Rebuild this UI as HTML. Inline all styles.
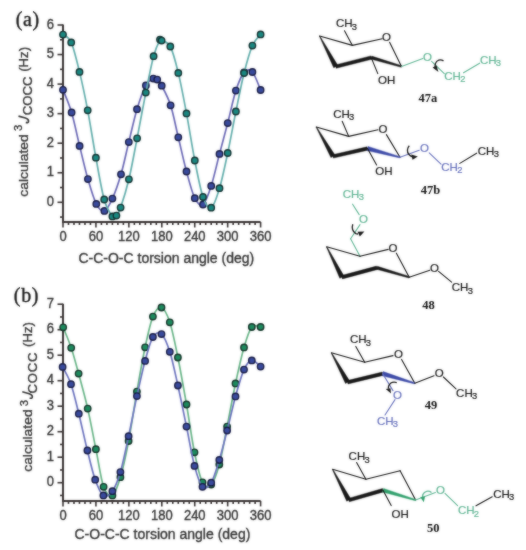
<!DOCTYPE html>
<html><head><meta charset="utf-8"><style>
html,body{margin:0;padding:0;background:#fff;}
svg{display:block;}
.tk{font-family:"Liberation Sans",sans-serif;font-size:13px;fill:#333333;stroke:#333;stroke-width:0.35px;}
.xt{font-family:"Liberation Sans",sans-serif;font-size:14px;fill:#333333;stroke:#333;stroke-width:0.35px;}
.yt{font-family:"Liberation Sans",sans-serif;font-size:13px;fill:#333333;stroke:#333;stroke-width:0.35px;}
.tag{font-family:"Liberation Serif",serif;font-size:20px;fill:#151515;stroke:#151515;stroke-width:0.35px;letter-spacing:0.7px;}
.ch{font-family:"Liberation Sans",sans-serif;stroke-width:0.2px;}
.lab{font-family:"Liberation Serif",serif;font-weight:bold;font-size:12.5px;fill:#111;}
</style></head><body>
<svg width="526" height="550" viewBox="0 0 526 550">
<defs><filter id="soft" x="0" y="0" width="526" height="550" filterUnits="userSpaceOnUse" color-interpolation-filters="sRGB"><feGaussianBlur in="SourceGraphic" stdDeviation="1" result="bl"/><feComposite in="SourceGraphic" in2="bl" operator="arithmetic" k1="0" k2="0.5" k3="0.5" k4="0"/></filter></defs>
<g filter="url(#soft)">
<rect width="526" height="550" fill="#fff"/>
<path d="M63.0,24.5 V222.0 H260.6" fill="none" stroke="#373131" stroke-width="2"/>
<line x1="60.0" y1="217.08" x2="63.0" y2="217.08" stroke="#373131" stroke-width="1.6"/>
<line x1="57.5" y1="202.30" x2="63.0" y2="202.30" stroke="#373131" stroke-width="1.6"/>
<text transform="translate(54.1,205.80) scale(1,1.1)" text-anchor="end" class="tk">0</text>
<line x1="60.0" y1="187.53" x2="63.0" y2="187.53" stroke="#373131" stroke-width="1.6"/>
<line x1="57.5" y1="172.75" x2="63.0" y2="172.75" stroke="#373131" stroke-width="1.6"/>
<text transform="translate(54.1,176.25) scale(1,1.1)" text-anchor="end" class="tk">1</text>
<line x1="60.0" y1="157.98" x2="63.0" y2="157.98" stroke="#373131" stroke-width="1.6"/>
<line x1="57.5" y1="143.20" x2="63.0" y2="143.20" stroke="#373131" stroke-width="1.6"/>
<text transform="translate(54.1,146.70) scale(1,1.1)" text-anchor="end" class="tk">2</text>
<line x1="60.0" y1="128.43" x2="63.0" y2="128.43" stroke="#373131" stroke-width="1.6"/>
<line x1="57.5" y1="113.65" x2="63.0" y2="113.65" stroke="#373131" stroke-width="1.6"/>
<text transform="translate(54.1,117.15) scale(1,1.1)" text-anchor="end" class="tk">3</text>
<line x1="60.0" y1="98.88" x2="63.0" y2="98.88" stroke="#373131" stroke-width="1.6"/>
<line x1="57.5" y1="84.10" x2="63.0" y2="84.10" stroke="#373131" stroke-width="1.6"/>
<text transform="translate(54.1,87.60) scale(1,1.1)" text-anchor="end" class="tk">4</text>
<line x1="60.0" y1="69.33" x2="63.0" y2="69.33" stroke="#373131" stroke-width="1.6"/>
<line x1="57.5" y1="54.55" x2="63.0" y2="54.55" stroke="#373131" stroke-width="1.6"/>
<text transform="translate(54.1,58.05) scale(1,1.1)" text-anchor="end" class="tk">5</text>
<line x1="60.0" y1="39.78" x2="63.0" y2="39.78" stroke="#373131" stroke-width="1.6"/>
<line x1="57.5" y1="25.00" x2="63.0" y2="25.00" stroke="#373131" stroke-width="1.6"/>
<text transform="translate(54.1,28.50) scale(1,1.1)" text-anchor="end" class="tk">6</text>
<line x1="63.00" y1="222.0" x2="63.00" y2="227.5" stroke="#373131" stroke-width="1.6"/>
<text transform="translate(63.00,241.20) scale(1,1.1)" text-anchor="middle" class="tk">0</text>
<line x1="68.49" y1="222.0" x2="68.49" y2="225.0" stroke="#373131" stroke-width="1.6"/>
<line x1="73.98" y1="222.0" x2="73.98" y2="225.0" stroke="#373131" stroke-width="1.6"/>
<line x1="79.47" y1="222.0" x2="79.47" y2="225.0" stroke="#373131" stroke-width="1.6"/>
<line x1="84.96" y1="222.0" x2="84.96" y2="225.0" stroke="#373131" stroke-width="1.6"/>
<line x1="90.45" y1="222.0" x2="90.45" y2="225.0" stroke="#373131" stroke-width="1.6"/>
<line x1="95.93" y1="222.0" x2="95.93" y2="227.5" stroke="#373131" stroke-width="1.6"/>
<text transform="translate(95.93,241.20) scale(1,1.1)" text-anchor="middle" class="tk">60</text>
<line x1="101.42" y1="222.0" x2="101.42" y2="225.0" stroke="#373131" stroke-width="1.6"/>
<line x1="106.91" y1="222.0" x2="106.91" y2="225.0" stroke="#373131" stroke-width="1.6"/>
<line x1="112.40" y1="222.0" x2="112.40" y2="225.0" stroke="#373131" stroke-width="1.6"/>
<line x1="117.89" y1="222.0" x2="117.89" y2="225.0" stroke="#373131" stroke-width="1.6"/>
<line x1="123.38" y1="222.0" x2="123.38" y2="225.0" stroke="#373131" stroke-width="1.6"/>
<line x1="128.87" y1="222.0" x2="128.87" y2="227.5" stroke="#373131" stroke-width="1.6"/>
<text transform="translate(128.87,241.20) scale(1,1.1)" text-anchor="middle" class="tk">120</text>
<line x1="134.36" y1="222.0" x2="134.36" y2="225.0" stroke="#373131" stroke-width="1.6"/>
<line x1="139.85" y1="222.0" x2="139.85" y2="225.0" stroke="#373131" stroke-width="1.6"/>
<line x1="145.34" y1="222.0" x2="145.34" y2="225.0" stroke="#373131" stroke-width="1.6"/>
<line x1="150.82" y1="222.0" x2="150.82" y2="225.0" stroke="#373131" stroke-width="1.6"/>
<line x1="156.31" y1="222.0" x2="156.31" y2="225.0" stroke="#373131" stroke-width="1.6"/>
<line x1="161.80" y1="222.0" x2="161.80" y2="227.5" stroke="#373131" stroke-width="1.6"/>
<text transform="translate(161.80,241.20) scale(1,1.1)" text-anchor="middle" class="tk">180</text>
<line x1="167.29" y1="222.0" x2="167.29" y2="225.0" stroke="#373131" stroke-width="1.6"/>
<line x1="172.78" y1="222.0" x2="172.78" y2="225.0" stroke="#373131" stroke-width="1.6"/>
<line x1="178.27" y1="222.0" x2="178.27" y2="225.0" stroke="#373131" stroke-width="1.6"/>
<line x1="183.76" y1="222.0" x2="183.76" y2="225.0" stroke="#373131" stroke-width="1.6"/>
<line x1="189.25" y1="222.0" x2="189.25" y2="225.0" stroke="#373131" stroke-width="1.6"/>
<line x1="194.74" y1="222.0" x2="194.74" y2="227.5" stroke="#373131" stroke-width="1.6"/>
<text transform="translate(194.74,241.20) scale(1,1.1)" text-anchor="middle" class="tk">240</text>
<line x1="200.23" y1="222.0" x2="200.23" y2="225.0" stroke="#373131" stroke-width="1.6"/>
<line x1="205.71" y1="222.0" x2="205.71" y2="225.0" stroke="#373131" stroke-width="1.6"/>
<line x1="211.20" y1="222.0" x2="211.20" y2="225.0" stroke="#373131" stroke-width="1.6"/>
<line x1="216.69" y1="222.0" x2="216.69" y2="225.0" stroke="#373131" stroke-width="1.6"/>
<line x1="222.18" y1="222.0" x2="222.18" y2="225.0" stroke="#373131" stroke-width="1.6"/>
<line x1="227.67" y1="222.0" x2="227.67" y2="227.5" stroke="#373131" stroke-width="1.6"/>
<text transform="translate(227.67,241.20) scale(1,1.1)" text-anchor="middle" class="tk">300</text>
<line x1="233.16" y1="222.0" x2="233.16" y2="225.0" stroke="#373131" stroke-width="1.6"/>
<line x1="238.65" y1="222.0" x2="238.65" y2="225.0" stroke="#373131" stroke-width="1.6"/>
<line x1="244.14" y1="222.0" x2="244.14" y2="225.0" stroke="#373131" stroke-width="1.6"/>
<line x1="249.63" y1="222.0" x2="249.63" y2="225.0" stroke="#373131" stroke-width="1.6"/>
<line x1="255.12" y1="222.0" x2="255.12" y2="225.0" stroke="#373131" stroke-width="1.6"/>
<line x1="260.60" y1="222.0" x2="260.60" y2="227.5" stroke="#373131" stroke-width="1.6"/>
<text transform="translate(260.60,241.20) scale(1,1.1)" text-anchor="middle" class="tk">360</text>
<path d="M63.00,89.80 C64.43,93.58 68.83,103.15 71.60,112.50 C74.37,121.85 76.88,134.80 79.60,145.90 C82.32,157.00 85.12,169.43 87.90,179.10 C90.68,188.77 93.55,198.60 96.30,203.90 C99.05,209.20 101.72,211.78 104.40,210.90 C107.08,210.02 109.63,204.70 112.40,198.60 C115.17,192.50 118.27,183.72 121.00,174.30 C123.73,164.88 126.13,152.95 128.80,142.10 C131.47,131.25 134.15,118.65 137.00,109.20 C139.85,99.75 143.18,90.50 145.90,85.40 C148.62,80.30 151.42,79.57 153.30,78.60 C155.18,77.63 155.80,78.42 157.20,79.60 C158.60,80.78 159.47,81.42 161.70,85.70 C163.93,89.98 167.83,96.70 170.60,105.30 C173.37,113.90 175.65,126.27 178.30,137.30 C180.95,148.33 183.75,161.35 186.50,171.50 C189.25,181.65 192.05,192.70 194.80,198.20 C197.55,203.70 200.27,206.55 203.00,204.50 C205.73,202.45 208.45,194.33 211.20,185.90 C213.95,177.47 216.75,164.37 219.50,153.90 C222.25,143.43 224.97,133.65 227.70,123.10 C230.43,112.55 233.17,99.05 235.90,90.60 C238.63,82.15 241.35,75.50 244.10,72.40 C246.85,69.30 249.65,69.07 252.40,72.00 C255.15,74.93 259.23,87.00 260.60,90.00" fill="none" stroke="#6967b4" stroke-width="1.7" stroke-linejoin="round"/>
<circle cx="63.0" cy="89.8" r="3.2" fill="#3a4ca0" stroke="#161a44" stroke-width="1.4"/>
<circle cx="71.6" cy="112.5" r="3.2" fill="#3a4ca0" stroke="#161a44" stroke-width="1.4"/>
<circle cx="79.6" cy="145.9" r="3.2" fill="#3a4ca0" stroke="#161a44" stroke-width="1.4"/>
<circle cx="87.9" cy="179.1" r="3.2" fill="#3a4ca0" stroke="#161a44" stroke-width="1.4"/>
<circle cx="96.3" cy="203.9" r="3.2" fill="#3a4ca0" stroke="#161a44" stroke-width="1.4"/>
<circle cx="104.4" cy="210.9" r="3.2" fill="#3a4ca0" stroke="#161a44" stroke-width="1.4"/>
<circle cx="112.4" cy="198.6" r="3.2" fill="#3a4ca0" stroke="#161a44" stroke-width="1.4"/>
<circle cx="121.0" cy="174.3" r="3.2" fill="#3a4ca0" stroke="#161a44" stroke-width="1.4"/>
<circle cx="128.8" cy="142.1" r="3.2" fill="#3a4ca0" stroke="#161a44" stroke-width="1.4"/>
<circle cx="137.0" cy="109.2" r="3.2" fill="#3a4ca0" stroke="#161a44" stroke-width="1.4"/>
<circle cx="145.9" cy="85.4" r="3.2" fill="#3a4ca0" stroke="#161a44" stroke-width="1.4"/>
<circle cx="153.3" cy="78.6" r="3.2" fill="#3a4ca0" stroke="#161a44" stroke-width="1.4"/>
<circle cx="157.2" cy="79.6" r="3.2" fill="#3a4ca0" stroke="#161a44" stroke-width="1.4"/>
<circle cx="161.7" cy="85.7" r="3.2" fill="#3a4ca0" stroke="#161a44" stroke-width="1.4"/>
<circle cx="170.6" cy="105.3" r="3.2" fill="#3a4ca0" stroke="#161a44" stroke-width="1.4"/>
<circle cx="178.3" cy="137.3" r="3.2" fill="#3a4ca0" stroke="#161a44" stroke-width="1.4"/>
<circle cx="186.5" cy="171.5" r="3.2" fill="#3a4ca0" stroke="#161a44" stroke-width="1.4"/>
<circle cx="194.8" cy="198.2" r="3.2" fill="#3a4ca0" stroke="#161a44" stroke-width="1.4"/>
<circle cx="203.0" cy="204.5" r="3.2" fill="#3a4ca0" stroke="#161a44" stroke-width="1.4"/>
<circle cx="211.2" cy="185.9" r="3.2" fill="#3a4ca0" stroke="#161a44" stroke-width="1.4"/>
<circle cx="219.5" cy="153.9" r="3.2" fill="#3a4ca0" stroke="#161a44" stroke-width="1.4"/>
<circle cx="227.7" cy="123.1" r="3.2" fill="#3a4ca0" stroke="#161a44" stroke-width="1.4"/>
<circle cx="235.9" cy="90.6" r="3.2" fill="#3a4ca0" stroke="#161a44" stroke-width="1.4"/>
<circle cx="244.1" cy="72.4" r="3.2" fill="#3a4ca0" stroke="#161a44" stroke-width="1.4"/>
<circle cx="252.4" cy="72.0" r="3.2" fill="#3a4ca0" stroke="#161a44" stroke-width="1.4"/>
<circle cx="260.6" cy="90.0" r="3.2" fill="#3a4ca0" stroke="#161a44" stroke-width="1.4"/>
<path d="M63.00,34.60 C64.37,35.90 68.45,36.18 71.20,42.40 C73.95,48.62 76.75,60.58 79.50,71.90 C82.25,83.22 84.97,96.00 87.70,110.30 C90.43,124.60 93.15,142.83 95.90,157.70 C98.65,172.57 101.45,189.72 104.20,199.50 C106.95,209.28 110.37,213.72 112.40,216.40 C114.43,219.08 115.03,217.07 116.40,215.60 C117.77,214.13 118.52,213.65 120.60,207.60 C122.68,201.55 126.15,190.85 128.90,179.30 C131.65,167.75 134.28,152.75 137.10,138.30 C139.92,123.85 143.05,106.28 145.80,92.60 C148.55,78.92 151.23,65.03 153.60,56.20 C155.97,47.37 158.67,42.20 160.00,39.60 C161.33,37.00 159.88,39.45 161.60,40.60 C163.32,41.75 167.52,41.12 170.30,46.50 C173.08,51.88 175.60,61.75 178.30,72.90 C181.00,84.05 183.75,98.80 186.50,113.40 C189.25,128.00 192.05,146.57 194.80,160.50 C197.55,174.43 200.27,189.13 203.00,197.00 C205.73,204.87 208.45,209.17 211.20,207.70 C213.95,206.23 216.75,197.32 219.50,188.20 C222.25,179.08 224.97,165.78 227.70,153.00 C230.43,140.22 233.17,124.83 235.90,111.50 C238.63,98.17 241.35,83.98 244.10,73.00 C246.85,62.02 249.65,52.03 252.40,45.60 C255.15,39.17 259.23,36.27 260.60,34.40" fill="none" stroke="#62adab" stroke-width="1.7" stroke-linejoin="round"/>
<circle cx="63.0" cy="34.6" r="3.2" fill="#1a8a83" stroke="#10302f" stroke-width="1.4"/>
<circle cx="71.2" cy="42.4" r="3.2" fill="#1a8a83" stroke="#10302f" stroke-width="1.4"/>
<circle cx="79.5" cy="71.9" r="3.2" fill="#1a8a83" stroke="#10302f" stroke-width="1.4"/>
<circle cx="87.7" cy="110.3" r="3.2" fill="#1a8a83" stroke="#10302f" stroke-width="1.4"/>
<circle cx="95.9" cy="157.7" r="3.2" fill="#1a8a83" stroke="#10302f" stroke-width="1.4"/>
<circle cx="104.2" cy="199.5" r="3.2" fill="#1a8a83" stroke="#10302f" stroke-width="1.4"/>
<circle cx="112.4" cy="216.4" r="3.2" fill="#1a8a83" stroke="#10302f" stroke-width="1.4"/>
<circle cx="116.4" cy="215.6" r="3.2" fill="#1a8a83" stroke="#10302f" stroke-width="1.4"/>
<circle cx="120.6" cy="207.6" r="3.2" fill="#1a8a83" stroke="#10302f" stroke-width="1.4"/>
<circle cx="128.9" cy="179.3" r="3.2" fill="#1a8a83" stroke="#10302f" stroke-width="1.4"/>
<circle cx="137.1" cy="138.3" r="3.2" fill="#1a8a83" stroke="#10302f" stroke-width="1.4"/>
<circle cx="145.8" cy="92.6" r="3.2" fill="#1a8a83" stroke="#10302f" stroke-width="1.4"/>
<circle cx="153.6" cy="56.2" r="3.2" fill="#1a8a83" stroke="#10302f" stroke-width="1.4"/>
<circle cx="160.0" cy="39.6" r="3.2" fill="#1a8a83" stroke="#10302f" stroke-width="1.4"/>
<circle cx="161.6" cy="40.6" r="3.2" fill="#1a8a83" stroke="#10302f" stroke-width="1.4"/>
<circle cx="170.3" cy="46.5" r="3.2" fill="#1a8a83" stroke="#10302f" stroke-width="1.4"/>
<circle cx="178.3" cy="72.9" r="3.2" fill="#1a8a83" stroke="#10302f" stroke-width="1.4"/>
<circle cx="186.5" cy="113.4" r="3.2" fill="#1a8a83" stroke="#10302f" stroke-width="1.4"/>
<circle cx="194.8" cy="160.5" r="3.2" fill="#1a8a83" stroke="#10302f" stroke-width="1.4"/>
<circle cx="203.0" cy="197.0" r="3.2" fill="#1a8a83" stroke="#10302f" stroke-width="1.4"/>
<circle cx="211.2" cy="207.7" r="3.2" fill="#1a8a83" stroke="#10302f" stroke-width="1.4"/>
<circle cx="219.5" cy="188.2" r="3.2" fill="#1a8a83" stroke="#10302f" stroke-width="1.4"/>
<circle cx="227.7" cy="153.0" r="3.2" fill="#1a8a83" stroke="#10302f" stroke-width="1.4"/>
<circle cx="235.9" cy="111.5" r="3.2" fill="#1a8a83" stroke="#10302f" stroke-width="1.4"/>
<circle cx="244.1" cy="73.0" r="3.2" fill="#1a8a83" stroke="#10302f" stroke-width="1.4"/>
<circle cx="252.4" cy="45.6" r="3.2" fill="#1a8a83" stroke="#10302f" stroke-width="1.4"/>
<circle cx="260.6" cy="34.4" r="3.2" fill="#1a8a83" stroke="#10302f" stroke-width="1.4"/>
<text x="78.4" y="263.0" class="xt">C-C-O-C torsion angle (deg)</text>
<text transform="translate(27.7,196.7) rotate(-90) scale(1.013,1)" class="yt"><tspan x="0" y="0" font-size="13.7">calculated</tspan><tspan x="64.8" y="-5.8" font-size="11">3</tspan><tspan x="80.4" y="4.6" style="letter-spacing:0.0px">COCC</tspan><tspan x="123.3" y="0">(Hz)</tspan></text>
<path d="M18.50,116.13 L25.40,118.06 C27.50,118.65 28.55,119.84 28.55,121.14 C28.55,122.54 27.60,122.88 25.80,122.37" fill="none" stroke="#333333" stroke-width="1.6"/>
<text x="15.7" y="25.6" class="tag">(a)</text>
<path d="M63.0,303.7 V500.9 H260.6" fill="none" stroke="#373131" stroke-width="2"/>
<line x1="60.0" y1="495.45" x2="63.0" y2="495.45" stroke="#373131" stroke-width="1.6"/>
<line x1="57.5" y1="482.70" x2="63.0" y2="482.70" stroke="#373131" stroke-width="1.6"/>
<text transform="translate(54.1,486.20) scale(1,1.1)" text-anchor="end" class="tk">0</text>
<line x1="60.0" y1="469.95" x2="63.0" y2="469.95" stroke="#373131" stroke-width="1.6"/>
<line x1="57.5" y1="457.20" x2="63.0" y2="457.20" stroke="#373131" stroke-width="1.6"/>
<text transform="translate(54.1,460.70) scale(1,1.1)" text-anchor="end" class="tk">1</text>
<line x1="60.0" y1="444.45" x2="63.0" y2="444.45" stroke="#373131" stroke-width="1.6"/>
<line x1="57.5" y1="431.70" x2="63.0" y2="431.70" stroke="#373131" stroke-width="1.6"/>
<text transform="translate(54.1,435.20) scale(1,1.1)" text-anchor="end" class="tk">2</text>
<line x1="60.0" y1="418.95" x2="63.0" y2="418.95" stroke="#373131" stroke-width="1.6"/>
<line x1="57.5" y1="406.20" x2="63.0" y2="406.20" stroke="#373131" stroke-width="1.6"/>
<text transform="translate(54.1,409.70) scale(1,1.1)" text-anchor="end" class="tk">3</text>
<line x1="60.0" y1="393.45" x2="63.0" y2="393.45" stroke="#373131" stroke-width="1.6"/>
<line x1="57.5" y1="380.70" x2="63.0" y2="380.70" stroke="#373131" stroke-width="1.6"/>
<text transform="translate(54.1,384.20) scale(1,1.1)" text-anchor="end" class="tk">4</text>
<line x1="60.0" y1="367.95" x2="63.0" y2="367.95" stroke="#373131" stroke-width="1.6"/>
<line x1="57.5" y1="355.20" x2="63.0" y2="355.20" stroke="#373131" stroke-width="1.6"/>
<text transform="translate(54.1,358.70) scale(1,1.1)" text-anchor="end" class="tk">5</text>
<line x1="60.0" y1="342.45" x2="63.0" y2="342.45" stroke="#373131" stroke-width="1.6"/>
<line x1="57.5" y1="329.70" x2="63.0" y2="329.70" stroke="#373131" stroke-width="1.6"/>
<text transform="translate(54.1,333.20) scale(1,1.1)" text-anchor="end" class="tk">6</text>
<line x1="60.0" y1="316.95" x2="63.0" y2="316.95" stroke="#373131" stroke-width="1.6"/>
<line x1="57.5" y1="304.20" x2="63.0" y2="304.20" stroke="#373131" stroke-width="1.6"/>
<text transform="translate(54.1,307.70) scale(1,1.1)" text-anchor="end" class="tk">7</text>
<line x1="63.00" y1="500.9" x2="63.00" y2="506.4" stroke="#373131" stroke-width="1.6"/>
<text transform="translate(63.00,520.10) scale(1,1.1)" text-anchor="middle" class="tk">0</text>
<line x1="68.49" y1="500.9" x2="68.49" y2="503.9" stroke="#373131" stroke-width="1.6"/>
<line x1="73.98" y1="500.9" x2="73.98" y2="503.9" stroke="#373131" stroke-width="1.6"/>
<line x1="79.47" y1="500.9" x2="79.47" y2="503.9" stroke="#373131" stroke-width="1.6"/>
<line x1="84.96" y1="500.9" x2="84.96" y2="503.9" stroke="#373131" stroke-width="1.6"/>
<line x1="90.45" y1="500.9" x2="90.45" y2="503.9" stroke="#373131" stroke-width="1.6"/>
<line x1="95.93" y1="500.9" x2="95.93" y2="506.4" stroke="#373131" stroke-width="1.6"/>
<text transform="translate(95.93,520.10) scale(1,1.1)" text-anchor="middle" class="tk">60</text>
<line x1="101.42" y1="500.9" x2="101.42" y2="503.9" stroke="#373131" stroke-width="1.6"/>
<line x1="106.91" y1="500.9" x2="106.91" y2="503.9" stroke="#373131" stroke-width="1.6"/>
<line x1="112.40" y1="500.9" x2="112.40" y2="503.9" stroke="#373131" stroke-width="1.6"/>
<line x1="117.89" y1="500.9" x2="117.89" y2="503.9" stroke="#373131" stroke-width="1.6"/>
<line x1="123.38" y1="500.9" x2="123.38" y2="503.9" stroke="#373131" stroke-width="1.6"/>
<line x1="128.87" y1="500.9" x2="128.87" y2="506.4" stroke="#373131" stroke-width="1.6"/>
<text transform="translate(128.87,520.10) scale(1,1.1)" text-anchor="middle" class="tk">120</text>
<line x1="134.36" y1="500.9" x2="134.36" y2="503.9" stroke="#373131" stroke-width="1.6"/>
<line x1="139.85" y1="500.9" x2="139.85" y2="503.9" stroke="#373131" stroke-width="1.6"/>
<line x1="145.34" y1="500.9" x2="145.34" y2="503.9" stroke="#373131" stroke-width="1.6"/>
<line x1="150.82" y1="500.9" x2="150.82" y2="503.9" stroke="#373131" stroke-width="1.6"/>
<line x1="156.31" y1="500.9" x2="156.31" y2="503.9" stroke="#373131" stroke-width="1.6"/>
<line x1="161.80" y1="500.9" x2="161.80" y2="506.4" stroke="#373131" stroke-width="1.6"/>
<text transform="translate(161.80,520.10) scale(1,1.1)" text-anchor="middle" class="tk">180</text>
<line x1="167.29" y1="500.9" x2="167.29" y2="503.9" stroke="#373131" stroke-width="1.6"/>
<line x1="172.78" y1="500.9" x2="172.78" y2="503.9" stroke="#373131" stroke-width="1.6"/>
<line x1="178.27" y1="500.9" x2="178.27" y2="503.9" stroke="#373131" stroke-width="1.6"/>
<line x1="183.76" y1="500.9" x2="183.76" y2="503.9" stroke="#373131" stroke-width="1.6"/>
<line x1="189.25" y1="500.9" x2="189.25" y2="503.9" stroke="#373131" stroke-width="1.6"/>
<line x1="194.74" y1="500.9" x2="194.74" y2="506.4" stroke="#373131" stroke-width="1.6"/>
<text transform="translate(194.74,520.10) scale(1,1.1)" text-anchor="middle" class="tk">240</text>
<line x1="200.23" y1="500.9" x2="200.23" y2="503.9" stroke="#373131" stroke-width="1.6"/>
<line x1="205.71" y1="500.9" x2="205.71" y2="503.9" stroke="#373131" stroke-width="1.6"/>
<line x1="211.20" y1="500.9" x2="211.20" y2="503.9" stroke="#373131" stroke-width="1.6"/>
<line x1="216.69" y1="500.9" x2="216.69" y2="503.9" stroke="#373131" stroke-width="1.6"/>
<line x1="222.18" y1="500.9" x2="222.18" y2="503.9" stroke="#373131" stroke-width="1.6"/>
<line x1="227.67" y1="500.9" x2="227.67" y2="506.4" stroke="#373131" stroke-width="1.6"/>
<text transform="translate(227.67,520.10) scale(1,1.1)" text-anchor="middle" class="tk">300</text>
<line x1="233.16" y1="500.9" x2="233.16" y2="503.9" stroke="#373131" stroke-width="1.6"/>
<line x1="238.65" y1="500.9" x2="238.65" y2="503.9" stroke="#373131" stroke-width="1.6"/>
<line x1="244.14" y1="500.9" x2="244.14" y2="503.9" stroke="#373131" stroke-width="1.6"/>
<line x1="249.63" y1="500.9" x2="249.63" y2="503.9" stroke="#373131" stroke-width="1.6"/>
<line x1="255.12" y1="500.9" x2="255.12" y2="503.9" stroke="#373131" stroke-width="1.6"/>
<line x1="260.60" y1="500.9" x2="260.60" y2="506.4" stroke="#373131" stroke-width="1.6"/>
<text transform="translate(260.60,520.10) scale(1,1.1)" text-anchor="middle" class="tk">360</text>
<path d="M63.20,327.30 C64.53,330.72 68.63,340.08 71.20,347.80 C73.77,355.52 75.85,363.47 78.60,373.60 C81.35,383.73 84.82,396.00 87.70,408.60 C90.58,421.20 93.25,436.17 95.90,449.20 C98.55,462.23 100.85,479.10 103.60,486.80 C106.35,494.50 109.60,497.00 112.40,495.40 C115.20,493.80 117.70,486.27 120.40,477.20 C123.10,468.13 125.85,455.27 128.60,441.00 C131.35,426.73 134.15,407.22 136.90,391.60 C139.65,375.98 142.43,359.80 145.10,347.30 C147.77,334.80 150.17,323.23 152.90,316.60 C155.63,309.97 158.68,306.55 161.50,307.50 C164.32,308.45 167.07,313.97 169.80,322.30 C172.53,330.63 175.12,343.80 177.90,357.50 C180.68,371.20 183.73,388.70 186.50,404.50 C189.27,420.30 191.83,439.33 194.50,452.30 C197.17,465.27 199.72,476.93 202.50,482.30 C205.28,487.67 208.40,487.47 211.20,484.50 C214.00,481.53 216.65,474.15 219.30,464.50 C221.95,454.85 224.40,440.12 227.10,426.60 C229.80,413.08 232.68,396.60 235.50,383.40 C238.32,370.20 241.28,356.80 244.00,347.40 C246.72,338.00 249.03,330.40 251.80,327.00 C254.57,323.60 259.13,327.00 260.60,327.00" fill="none" stroke="#68b487" stroke-width="1.7" stroke-linejoin="round"/>
<circle cx="63.2" cy="327.3" r="3.2" fill="#1d8d60" stroke="#113226" stroke-width="1.4"/>
<circle cx="71.2" cy="347.8" r="3.2" fill="#1d8d60" stroke="#113226" stroke-width="1.4"/>
<circle cx="78.6" cy="373.6" r="3.2" fill="#1d8d60" stroke="#113226" stroke-width="1.4"/>
<circle cx="87.7" cy="408.6" r="3.2" fill="#1d8d60" stroke="#113226" stroke-width="1.4"/>
<circle cx="95.9" cy="449.2" r="3.2" fill="#1d8d60" stroke="#113226" stroke-width="1.4"/>
<circle cx="103.6" cy="486.8" r="3.2" fill="#1d8d60" stroke="#113226" stroke-width="1.4"/>
<circle cx="112.4" cy="495.4" r="3.2" fill="#1d8d60" stroke="#113226" stroke-width="1.4"/>
<circle cx="120.4" cy="477.2" r="3.2" fill="#1d8d60" stroke="#113226" stroke-width="1.4"/>
<circle cx="128.6" cy="441.0" r="3.2" fill="#1d8d60" stroke="#113226" stroke-width="1.4"/>
<circle cx="136.9" cy="391.6" r="3.2" fill="#1d8d60" stroke="#113226" stroke-width="1.4"/>
<circle cx="145.1" cy="347.3" r="3.2" fill="#1d8d60" stroke="#113226" stroke-width="1.4"/>
<circle cx="152.9" cy="316.6" r="3.2" fill="#1d8d60" stroke="#113226" stroke-width="1.4"/>
<circle cx="161.5" cy="307.5" r="3.2" fill="#1d8d60" stroke="#113226" stroke-width="1.4"/>
<circle cx="169.8" cy="322.3" r="3.2" fill="#1d8d60" stroke="#113226" stroke-width="1.4"/>
<circle cx="177.9" cy="357.5" r="3.2" fill="#1d8d60" stroke="#113226" stroke-width="1.4"/>
<circle cx="186.5" cy="404.5" r="3.2" fill="#1d8d60" stroke="#113226" stroke-width="1.4"/>
<circle cx="194.5" cy="452.3" r="3.2" fill="#1d8d60" stroke="#113226" stroke-width="1.4"/>
<circle cx="202.5" cy="482.3" r="3.2" fill="#1d8d60" stroke="#113226" stroke-width="1.4"/>
<circle cx="211.2" cy="484.5" r="3.2" fill="#1d8d60" stroke="#113226" stroke-width="1.4"/>
<circle cx="219.3" cy="464.5" r="3.2" fill="#1d8d60" stroke="#113226" stroke-width="1.4"/>
<circle cx="227.1" cy="426.6" r="3.2" fill="#1d8d60" stroke="#113226" stroke-width="1.4"/>
<circle cx="235.5" cy="383.4" r="3.2" fill="#1d8d60" stroke="#113226" stroke-width="1.4"/>
<circle cx="244.0" cy="347.4" r="3.2" fill="#1d8d60" stroke="#113226" stroke-width="1.4"/>
<circle cx="251.8" cy="327.0" r="3.2" fill="#1d8d60" stroke="#113226" stroke-width="1.4"/>
<circle cx="260.6" cy="327.0" r="3.2" fill="#1d8d60" stroke="#113226" stroke-width="1.4"/>
<path d="M62.60,366.90 C64.00,369.78 68.30,376.40 71.00,384.20 C73.70,392.00 76.07,402.65 78.80,413.70 C81.53,424.75 84.67,439.50 87.40,450.50 C90.13,461.50 92.53,472.22 95.20,479.70 C97.87,487.18 100.53,493.48 103.40,495.40 C106.27,497.32 109.57,495.08 112.40,491.20 C115.23,487.32 117.70,481.27 120.40,472.10 C123.10,462.93 125.85,448.87 128.60,436.20 C131.35,423.53 134.15,408.65 136.90,396.10 C139.65,383.55 142.43,370.75 145.10,360.90 C147.77,351.05 150.17,341.47 152.90,337.00 C155.63,332.53 158.68,331.63 161.50,334.10 C164.32,336.57 167.07,343.23 169.80,351.80 C172.53,360.37 175.12,373.03 177.90,385.50 C180.68,397.97 183.73,413.20 186.50,426.60 C189.27,440.00 191.83,455.87 194.50,465.90 C197.17,475.93 199.72,484.00 202.50,486.80 C205.28,489.60 208.40,487.17 211.20,482.70 C214.00,478.23 216.65,468.70 219.30,460.00 C221.95,451.30 224.40,441.10 227.10,430.50 C229.80,419.90 232.68,406.55 235.50,396.40 C238.32,386.25 241.28,375.60 244.00,369.60 C246.72,363.60 249.03,360.90 251.80,360.40 C254.57,359.90 259.13,365.57 260.60,366.60" fill="none" stroke="#6a72bd" stroke-width="1.7" stroke-linejoin="round"/>
<circle cx="62.6" cy="366.9" r="3.2" fill="#3a4ca0" stroke="#161a44" stroke-width="1.4"/>
<circle cx="71.0" cy="384.2" r="3.2" fill="#3a4ca0" stroke="#161a44" stroke-width="1.4"/>
<circle cx="78.8" cy="413.7" r="3.2" fill="#3a4ca0" stroke="#161a44" stroke-width="1.4"/>
<circle cx="87.4" cy="450.5" r="3.2" fill="#3a4ca0" stroke="#161a44" stroke-width="1.4"/>
<circle cx="95.2" cy="479.7" r="3.2" fill="#3a4ca0" stroke="#161a44" stroke-width="1.4"/>
<circle cx="103.4" cy="495.4" r="3.2" fill="#3a4ca0" stroke="#161a44" stroke-width="1.4"/>
<circle cx="112.4" cy="491.2" r="3.2" fill="#3a4ca0" stroke="#161a44" stroke-width="1.4"/>
<circle cx="120.4" cy="472.1" r="3.2" fill="#3a4ca0" stroke="#161a44" stroke-width="1.4"/>
<circle cx="128.6" cy="436.2" r="3.2" fill="#3a4ca0" stroke="#161a44" stroke-width="1.4"/>
<circle cx="136.9" cy="396.1" r="3.2" fill="#3a4ca0" stroke="#161a44" stroke-width="1.4"/>
<circle cx="145.1" cy="360.9" r="3.2" fill="#3a4ca0" stroke="#161a44" stroke-width="1.4"/>
<circle cx="152.9" cy="337.0" r="3.2" fill="#3a4ca0" stroke="#161a44" stroke-width="1.4"/>
<circle cx="161.5" cy="334.1" r="3.2" fill="#3a4ca0" stroke="#161a44" stroke-width="1.4"/>
<circle cx="169.8" cy="351.8" r="3.2" fill="#3a4ca0" stroke="#161a44" stroke-width="1.4"/>
<circle cx="177.9" cy="385.5" r="3.2" fill="#3a4ca0" stroke="#161a44" stroke-width="1.4"/>
<circle cx="186.5" cy="426.6" r="3.2" fill="#3a4ca0" stroke="#161a44" stroke-width="1.4"/>
<circle cx="194.5" cy="465.9" r="3.2" fill="#3a4ca0" stroke="#161a44" stroke-width="1.4"/>
<circle cx="202.5" cy="486.8" r="3.2" fill="#3a4ca0" stroke="#161a44" stroke-width="1.4"/>
<circle cx="211.2" cy="482.7" r="3.2" fill="#3a4ca0" stroke="#161a44" stroke-width="1.4"/>
<circle cx="219.3" cy="460.0" r="3.2" fill="#3a4ca0" stroke="#161a44" stroke-width="1.4"/>
<circle cx="227.1" cy="430.5" r="3.2" fill="#3a4ca0" stroke="#161a44" stroke-width="1.4"/>
<circle cx="235.5" cy="396.4" r="3.2" fill="#3a4ca0" stroke="#161a44" stroke-width="1.4"/>
<circle cx="244.0" cy="369.6" r="3.2" fill="#3a4ca0" stroke="#161a44" stroke-width="1.4"/>
<circle cx="251.8" cy="360.4" r="3.2" fill="#3a4ca0" stroke="#161a44" stroke-width="1.4"/>
<circle cx="260.6" cy="366.6" r="3.2" fill="#3a4ca0" stroke="#161a44" stroke-width="1.4"/>
<text x="74.5" y="539.2" class="xt">C-O-C-C torsion angle (deg)</text>
<text transform="translate(31.6,471.8) rotate(-90) scale(1.013,1)" class="yt"><tspan x="0" y="0" font-size="13.7">calculated</tspan><tspan x="64.8" y="-3.4" font-size="11">3</tspan><tspan x="77.4" y="5.0" style="letter-spacing:0.7px">COCC</tspan><tspan x="123.3" y="0">(Hz)</tspan></text>
<path d="M22.30,391.83 L29.20,393.76 C31.30,394.35 32.35,395.54 32.35,396.84 C32.35,398.24 31.40,398.58 29.60,398.07" fill="none" stroke="#333333" stroke-width="1.6"/>
<text x="13.8" y="302.3" class="tag">(b)</text>
<line x1="319.6" y1="36.0" x2="352.4" y2="45.4" stroke="#151515" stroke-width="1.10" stroke-linecap="round"/>
<line x1="352.4" y1="45.4" x2="344.5" y2="30.8" stroke="#151515" stroke-width="1.10" stroke-linecap="round"/>
<text x="336.0" y="27.4" fill="#151515" stroke="#151515" font-size="11.5" class="ch">CH<tspan font-size="9.4" dx="-0.8" dy="2.2">3</tspan></text>
<line x1="352.4" y1="45.4" x2="382.2" y2="38.8" stroke="#151515" stroke-width="1.10" stroke-linecap="round"/>
<text x="386.5" y="41.2" fill="#151515" stroke="#151515" font-size="11.5" text-anchor="middle" class="ch">O</text>
<line x1="389.6" y1="42.2" x2="401.5" y2="66.5" stroke="#151515" stroke-width="1.10" stroke-linecap="round"/>
<polygon points="319.3,36.1 333.7,67.7 337.9,65.5 319.9,35.9" fill="#151515" stroke="#151515" stroke-width="0.4" stroke-linejoin="round"/>
<polygon points="336.2,68.3 371.6,59.3 370.8,55.9 335.4,64.9" fill="#151515" stroke="#151515" stroke-width="0.4" stroke-linejoin="round"/>
<polygon points="370.7,59.1 401.3,67.3 401.7,65.7 371.7,56.1" fill="#151515" stroke="#151515" stroke-width="0.4" stroke-linejoin="round"/>
<line x1="371.2" y1="57.6" x2="377.8" y2="73.6" stroke="#151515" stroke-width="1.10" stroke-linecap="round"/>
<text x="378.0" y="84.0" fill="#151515" stroke="#151515" font-size="11.5" text-anchor="start" class="ch">OH</text>
<line x1="401.5" y1="66.5" x2="422.8" y2="58.6" stroke="#5fb493" stroke-width="1.10" stroke-linecap="round"/>
<text x="427.6" y="60.6" fill="#5fb493" stroke="#5fb493" font-size="11.5" text-anchor="middle" class="ch">O</text>
<line x1="431.6" y1="61.4" x2="444.3" y2="73.6" stroke="#5fb493" stroke-width="1.10" stroke-linecap="round"/>
<text x="444.3" y="79.8" fill="#5fb493" stroke="#5fb493" font-size="11.5" class="ch">CH<tspan font-size="9.4" dx="-0.8" dy="2.2">2</tspan></text>
<line x1="463.5" y1="72.8" x2="479.6" y2="63.2" stroke="#5fb493" stroke-width="1.10" stroke-linecap="round"/>
<text x="480.0" y="64.1" fill="#5fb493" stroke="#5fb493" font-size="11.5" class="ch">CH<tspan font-size="9.4" dx="-0.8" dy="2.2">3</tspan></text>
<path d="M443.5,60.9 C440.5,59.0 436.6,59.8 435.4,63.6 L435.0,66.8" fill="none" stroke="#151515" stroke-width="1.3"/><polygon points="432.6,67.6 436.6,65.4 438.4,72.0" fill="#151515"/>
<text x="418.5" y="101.8" class="lab">47a</text>
<line x1="316.3" y1="127.0" x2="348.7" y2="136.4" stroke="#151515" stroke-width="1.10" stroke-linecap="round"/>
<line x1="348.7" y1="136.4" x2="342.2" y2="121.2" stroke="#151515" stroke-width="1.10" stroke-linecap="round"/>
<text x="333.2" y="118.2" fill="#151515" stroke="#151515" font-size="11.5" class="ch">CH<tspan font-size="9.4" dx="-0.8" dy="2.2">3</tspan></text>
<line x1="348.7" y1="136.4" x2="378.0" y2="129.8" stroke="#151515" stroke-width="1.10" stroke-linecap="round"/>
<text x="383.1" y="132.5" fill="#151515" stroke="#151515" font-size="11.5" text-anchor="middle" class="ch">O</text>
<line x1="386.4" y1="134.6" x2="400.0" y2="157.3" stroke="#151515" stroke-width="1.10" stroke-linecap="round"/>
<polygon points="316.0,127.1 330.9,157.6 335.1,155.2 316.6,126.9" fill="#151515" stroke="#151515" stroke-width="0.4" stroke-linejoin="round"/>
<polygon points="333.4,158.1 367.9,150.2 367.1,146.8 332.6,154.7" fill="#151515" stroke="#151515" stroke-width="0.4" stroke-linejoin="round"/>
<polygon points="366.9,150.6 399.8,157.9 400.2,156.7 368.1,146.4" fill="#3b48a6" stroke="#3b48a6" stroke-width="0.4" stroke-linejoin="round"/>
<line x1="367.5" y1="148.5" x2="376.6" y2="165.0" stroke="#151515" stroke-width="1.10" stroke-linecap="round"/>
<text x="375.2" y="175.0" fill="#151515" stroke="#151515" font-size="11.5" text-anchor="start" class="ch">OH</text>
<line x1="400.0" y1="157.3" x2="419.2" y2="150.2" stroke="#6670bb" stroke-width="1.10" stroke-linecap="round"/>
<text x="424.6" y="152.4" fill="#6670bb" stroke="#6670bb" font-size="11.5" text-anchor="middle" class="ch">O</text>
<line x1="429.2" y1="152.8" x2="441.0" y2="164.2" stroke="#6670bb" stroke-width="1.10" stroke-linecap="round"/>
<text x="441.3" y="171.2" fill="#6670bb" stroke="#6670bb" font-size="11.5" class="ch">CH<tspan font-size="9.4" dx="-0.8" dy="2.2">2</tspan></text>
<line x1="459.8" y1="163.4" x2="476.6" y2="153.2" stroke="#151515" stroke-width="1.10" stroke-linecap="round"/>
<text x="477.8" y="155.1" fill="#151515" stroke="#151515" font-size="11.5" class="ch">CH<tspan font-size="9.4" dx="-0.8" dy="2.2">3</tspan></text>
<path d="M409.3,145.8 C407.0,148.0 406.8,152.0 408.8,154.3 C409.8,155.5 411.2,156.4 412.6,156.9" fill="none" stroke="#151515" stroke-width="1.3"/><polygon points="411.2,154.4 417.8,156.6 412.6,159.8" fill="#151515"/>
<text x="420.8" y="194.2" class="lab">47b</text>
<text x="342.8" y="197.8" fill="#5fb493" stroke="#5fb493" font-size="11.5" class="ch">CH<tspan font-size="9.4" dx="-0.8" dy="2.2">3</tspan></text>
<line x1="352.6" y1="204.2" x2="359.2" y2="214.6" stroke="#5fb493" stroke-width="1.10" stroke-linecap="round"/>
<text x="363.4" y="223.2" fill="#5fb493" stroke="#5fb493" font-size="11.5" text-anchor="middle" class="ch">O</text>
<line x1="360.0" y1="224.6" x2="350.6" y2="238.8" stroke="#5fb493" stroke-width="1.10" stroke-linecap="round"/>
<line x1="350.6" y1="238.8" x2="360.0" y2="256.3" stroke="#5fb493" stroke-width="1.10" stroke-linecap="round"/>
<path d="M352.8,224.2 C351.6,227.5 352.4,231.8 355.8,233.6 L358.0,234.0" fill="none" stroke="#151515" stroke-width="1.3"/><polygon points="357.6,231.8 364.4,231.4 359.8,236.4" fill="#151515"/>
<line x1="326.7" y1="246.8" x2="360.0" y2="256.3" stroke="#151515" stroke-width="1.10" stroke-linecap="round"/>
<line x1="360.0" y1="256.3" x2="388.2" y2="249.4" stroke="#151515" stroke-width="1.10" stroke-linecap="round"/>
<text x="392.9" y="252.0" fill="#151515" stroke="#151515" font-size="11.5" text-anchor="middle" class="ch">O</text>
<line x1="396.4" y1="253.2" x2="409.2" y2="277.2" stroke="#151515" stroke-width="1.10" stroke-linecap="round"/>
<polygon points="326.4,246.9 339.8,278.3 344.0,276.1 327.0,246.7" fill="#151515" stroke="#151515" stroke-width="0.4" stroke-linejoin="round"/>
<polygon points="342.4,278.9 377.5,269.5 376.5,266.1 341.4,275.5" fill="#151515" stroke="#151515" stroke-width="0.4" stroke-linejoin="round"/>
<polygon points="376.6,269.3 409.0,278.0 409.4,276.4 377.4,266.3" fill="#151515" stroke="#151515" stroke-width="0.4" stroke-linejoin="round"/>
<line x1="409.2" y1="277.2" x2="429.8" y2="270.2" stroke="#151515" stroke-width="1.10" stroke-linecap="round"/>
<text x="434.4" y="271.8" fill="#151515" stroke="#151515" font-size="11.5" text-anchor="middle" class="ch">O</text>
<line x1="438.6" y1="271.4" x2="451.6" y2="282.2" stroke="#151515" stroke-width="1.10" stroke-linecap="round"/>
<text x="451.8" y="291.4" fill="#151515" stroke="#151515" font-size="11.5" class="ch">CH<tspan font-size="9.4" dx="-0.8" dy="2.2">3</tspan></text>
<text x="422.3" y="308.9" class="lab">48</text>
<text x="349.9" y="343.4" fill="#151515" stroke="#151515" font-size="11.5" class="ch">CH<tspan font-size="9.4" dx="-0.8" dy="2.2">3</tspan></text>
<line x1="355.8" y1="346.4" x2="364.7" y2="362.3" stroke="#151515" stroke-width="1.10" stroke-linecap="round"/>
<line x1="331.4" y1="352.8" x2="364.7" y2="362.3" stroke="#151515" stroke-width="1.10" stroke-linecap="round"/>
<line x1="364.7" y1="362.3" x2="393.0" y2="355.6" stroke="#151515" stroke-width="1.10" stroke-linecap="round"/>
<text x="398.5" y="357.5" fill="#151515" stroke="#151515" font-size="11.5" text-anchor="middle" class="ch">O</text>
<line x1="401.6" y1="359.4" x2="414.8" y2="383.3" stroke="#151515" stroke-width="1.10" stroke-linecap="round"/>
<polygon points="331.1,352.9 345.5,383.5 349.7,381.1 331.7,352.7" fill="#151515" stroke="#151515" stroke-width="0.4" stroke-linejoin="round"/>
<polygon points="348.0,384.0 383.1,375.4 382.3,372.0 347.2,380.6" fill="#151515" stroke="#151515" stroke-width="0.4" stroke-linejoin="round"/>
<polygon points="382.1,375.8 414.6,383.9 415.0,382.7 383.3,371.6" fill="#3b48a6" stroke="#3b48a6" stroke-width="0.4" stroke-linejoin="round"/>
<line x1="382.7" y1="373.7" x2="393.0" y2="390.6" stroke="#6670bb" stroke-width="1.10" stroke-linecap="round"/>
<text x="397.5" y="398.7" fill="#6670bb" stroke="#6670bb" font-size="11.5" text-anchor="middle" class="ch">O</text>
<line x1="395.0" y1="399.6" x2="385.0" y2="415.0" stroke="#6670bb" stroke-width="1.10" stroke-linecap="round"/>
<text x="377.0" y="424.6" fill="#6670bb" stroke="#6670bb" font-size="11.5" class="ch">CH<tspan font-size="9.4" dx="-0.8" dy="2.2">3</tspan></text>
<path d="M396.8,382.6 C393.5,381.6 390.2,382.6 388.6,386.0 L388.3,388.6" fill="none" stroke="#151515" stroke-width="1.3"/><polygon points="385.8,389.0 390.4,388.2 391.0,393.6" fill="#151515"/>
<line x1="414.8" y1="383.3" x2="434.0" y2="375.8" stroke="#151515" stroke-width="1.10" stroke-linecap="round"/>
<text x="439.3" y="377.1" fill="#151515" stroke="#151515" font-size="11.5" text-anchor="middle" class="ch">O</text>
<line x1="443.4" y1="377.0" x2="456.0" y2="388.8" stroke="#151515" stroke-width="1.10" stroke-linecap="round"/>
<text x="456.1" y="397.2" fill="#151515" stroke="#151515" font-size="11.5" class="ch">CH<tspan font-size="9.4" dx="-0.8" dy="2.2">3</tspan></text>
<text x="424.7" y="409.0" class="lab">49</text>
<text x="348.6" y="460.4" fill="#151515" stroke="#151515" font-size="11.5" class="ch">CH<tspan font-size="9.4" dx="-0.8" dy="2.2">3</tspan></text>
<line x1="356.6" y1="462.6" x2="365.9" y2="479.2" stroke="#151515" stroke-width="1.10" stroke-linecap="round"/>
<line x1="332.6" y1="469.3" x2="365.9" y2="479.2" stroke="#151515" stroke-width="1.10" stroke-linecap="round"/>
<line x1="365.9" y1="479.2" x2="400.1" y2="470.7" stroke="#151515" stroke-width="1.10" stroke-linecap="round"/>
<line x1="400.1" y1="470.7" x2="415.6" y2="500.1" stroke="#151515" stroke-width="1.10" stroke-linecap="round"/>
<polygon points="332.3,469.4 346.7,501.2 350.9,499.0 332.9,469.2" fill="#151515" stroke="#151515" stroke-width="0.4" stroke-linejoin="round"/>
<polygon points="349.3,501.8 383.5,491.9 382.5,488.5 348.3,498.4" fill="#151515" stroke="#151515" stroke-width="0.4" stroke-linejoin="round"/>
<polygon points="382.4,492.0 415.4,500.7 415.8,499.5 383.6,488.4" fill="#2e9e6a" stroke="#2e9e6a" stroke-width="0.4" stroke-linejoin="round"/>
<line x1="383.0" y1="490.2" x2="391.2" y2="505.6" stroke="#151515" stroke-width="1.10" stroke-linecap="round"/>
<text x="391.5" y="518.0" fill="#151515" stroke="#151515" font-size="11.5" text-anchor="start" class="ch">OH</text>
<line x1="415.6" y1="500.1" x2="435.4" y2="492.6" stroke="#5fb493" stroke-width="1.10" stroke-linecap="round"/>
<text x="440.5" y="494.4" fill="#5fb493" stroke="#5fb493" font-size="11.5" text-anchor="middle" class="ch">O</text>
<line x1="445.0" y1="493.4" x2="457.6" y2="505.6" stroke="#5fb493" stroke-width="1.10" stroke-linecap="round"/>
<text x="457.9" y="514.4" fill="#5fb493" stroke="#5fb493" font-size="11.5" class="ch">CH<tspan font-size="9.4" dx="-0.8" dy="2.2">2</tspan></text>
<line x1="476.0" y1="505.8" x2="492.2" y2="496.8" stroke="#151515" stroke-width="1.10" stroke-linecap="round"/>
<text x="493.2" y="497.7" fill="#151515" stroke="#151515" font-size="11.5" class="ch">CH<tspan font-size="9.4" dx="-0.8" dy="2.2">3</tspan></text>
<path d="M431.5,492.4 C428.5,490.2 424.5,491.0 422.8,494.6 L422.6,497.0" fill="none" stroke="#5fb493" stroke-width="1.3"/><polygon points="420.2,497.0 425.0,496.6 423.8,502.2" fill="#2e9e6a"/>
<text x="427.0" y="532.0" class="lab">50</text>
</g>
</svg>
</body></html>
